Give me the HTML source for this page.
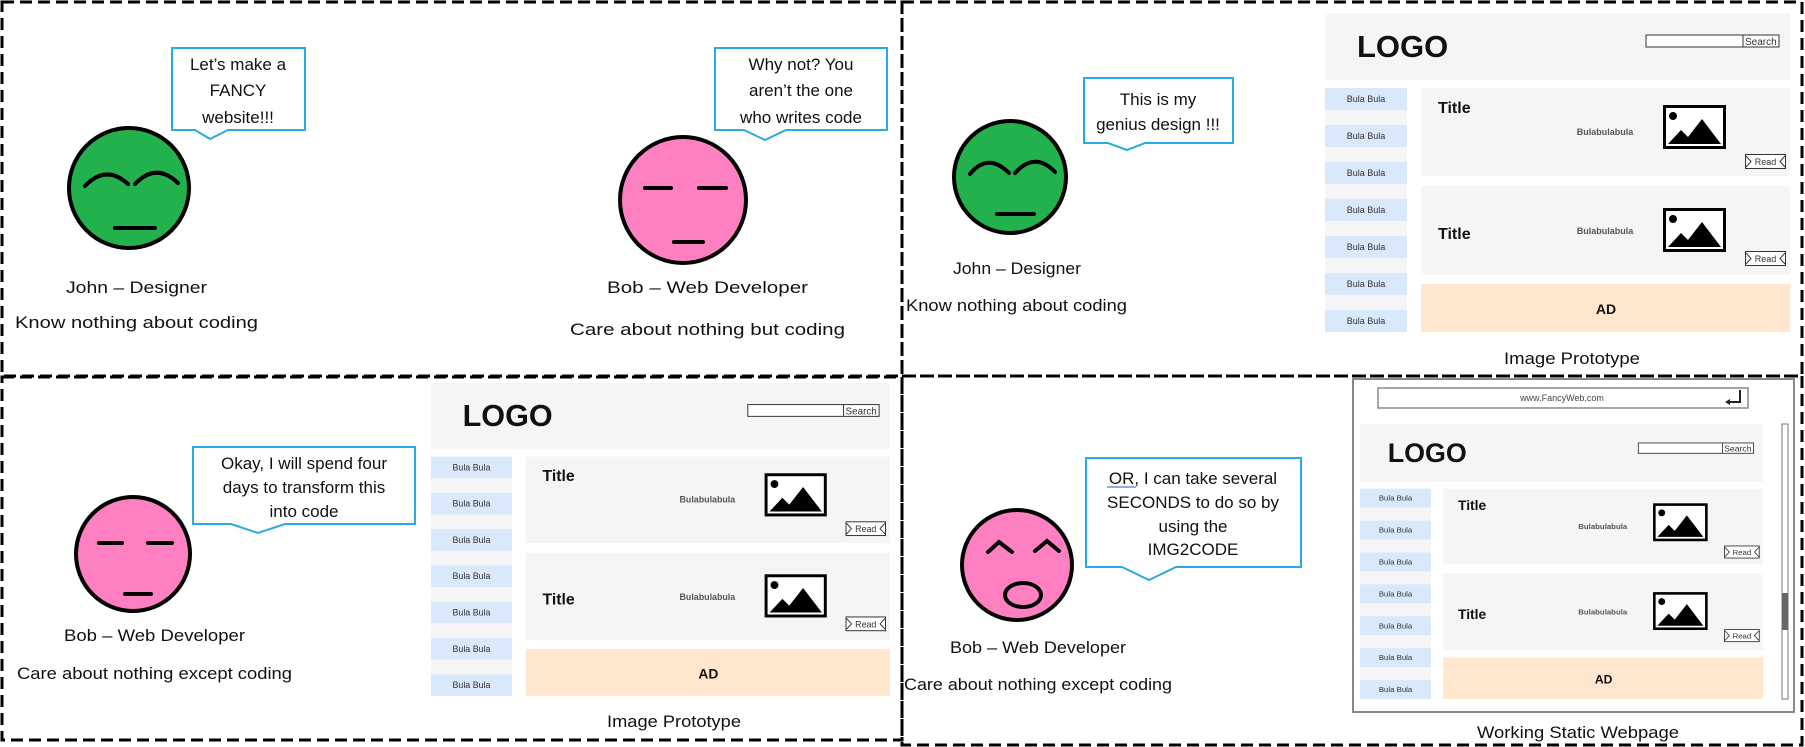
<!DOCTYPE html>
<html><head><meta charset="utf-8"><style>
html,body{margin:0;padding:0;background:#fff;}
svg{display:block;}
text{font-family:"Liberation Sans",sans-serif;}
.t{font-size:17px;fill:#111;}
</style></head><body>
<svg width="1805" height="747" viewBox="0 0 1805 747" xmlns="http://www.w3.org/2000/svg">
<!-- dashed panels -->
<g stroke="#000" stroke-width="3" stroke-dasharray="12 6" fill="none">
<rect x="2" y="2" width="900" height="374"/>
<rect x="902" y="2" width="900" height="374"/>
<rect x="2" y="377" width="900" height="363"/>
<rect x="902" y="376" width="900" height="369"/>
</g>

<!-- ===== TL: John ===== -->
<path d="M172 48 H305 V130 H228 L210 139 L195 130 H172 Z" fill="#fff" stroke="#29aae1" stroke-width="2"/>
<text class="t" x="238" y="70" text-anchor="middle">Let’s make a</text>
<text class="t" x="238" y="96" text-anchor="middle">FANCY</text>
<text class="t" x="238" y="123" text-anchor="middle">website!!!</text>
<circle cx="129" cy="188" r="60" fill="#23b14d" stroke="#000" stroke-width="4"/>
<g stroke="#000" stroke-width="4" fill="none" stroke-linecap="round">
<path d="M85 186 Q106 164 128 184"/><path d="M135 184 Q156 162 178 183"/>
<line x1="115" y1="228" x2="155" y2="228"/></g>
<text class="t" x="66" y="293" textLength="141" lengthAdjust="spacingAndGlyphs">John – Designer</text>
<text class="t" x="15" y="328" textLength="243" lengthAdjust="spacingAndGlyphs">Know nothing about coding</text>

<!-- ===== TL: Bob ===== -->
<path d="M715 48 H887 V130 H786 L765 140 L744 130 H715 Z" fill="#fff" stroke="#29aae1" stroke-width="2"/>
<text class="t" x="801" y="70" text-anchor="middle">Why not? You</text>
<text class="t" x="801" y="96" text-anchor="middle">aren’t the one</text>
<text class="t" x="801" y="123" text-anchor="middle">who writes code</text>
<circle cx="683" cy="200" r="63" fill="#ff80c0" stroke="#000" stroke-width="4"/>
<g stroke="#000" stroke-width="4" stroke-linecap="round">
<line x1="645" y1="188" x2="671" y2="188"/><line x1="699" y1="188" x2="726" y2="188"/>
<line x1="674" y1="242" x2="703" y2="242"/></g>
<text class="t" x="607" y="293" textLength="201" lengthAdjust="spacingAndGlyphs">Bob – Web Developer</text>
<text class="t" x="570" y="335" textLength="275" lengthAdjust="spacingAndGlyphs">Care about nothing but coding</text>

<!-- ===== TR: John ===== -->
<path d="M1084 78 H1233 V143 H1145 L1127 150 L1108 143 H1084 Z" fill="#fff" stroke="#29aae1" stroke-width="2"/>
<text class="t" x="1158" y="105" text-anchor="middle">This is my</text>
<text class="t" x="1158" y="130" text-anchor="middle">genius design !!!</text>
<circle cx="1010" cy="177" r="56" fill="#23b14d" stroke="#000" stroke-width="4"/>
<g stroke="#000" stroke-width="4" fill="none" stroke-linecap="round">
<path d="M970 174 Q988 152 1009 173"/><path d="M1015 173 Q1035 151 1055 172"/>
<line x1="997" y1="214" x2="1034" y2="214"/></g>
<text class="t" x="953" y="274" textLength="128" lengthAdjust="spacingAndGlyphs">John – Designer</text>
<text class="t" x="906" y="311" textLength="221" lengthAdjust="spacingAndGlyphs">Know nothing about coding</text>

<!-- ===== BL: Bob ===== -->
<path d="M193 447 H415 V524 H285 L258 533 L231 524 H193 Z" fill="#fff" stroke="#29aae1" stroke-width="2"/>
<text class="t" x="304" y="469" text-anchor="middle">Okay, I will spend four</text>
<text class="t" x="304" y="493" text-anchor="middle">days to transform this</text>
<text class="t" x="304" y="517" text-anchor="middle">into code</text>
<circle cx="133" cy="554" r="57" fill="#ff80c0" stroke="#000" stroke-width="4"/>
<g stroke="#000" stroke-width="4" stroke-linecap="round">
<line x1="99" y1="543" x2="122" y2="543"/><line x1="148" y1="543" x2="172" y2="543"/>
<line x1="125" y1="594" x2="151" y2="594"/></g>
<text class="t" x="64" y="641" textLength="181" lengthAdjust="spacingAndGlyphs">Bob – Web Developer</text>
<text class="t" x="17" y="679" textLength="275" lengthAdjust="spacingAndGlyphs">Care about nothing except coding</text>

<!-- ===== BR: Bob ===== -->
<path d="M1086 458 H1301 V567 H1176 L1149 580 L1122 567 H1086 Z" fill="#fff" stroke="#29aae1" stroke-width="2"/>
<text class="t" x="1193" y="484" text-anchor="middle">OR, I can take several</text>
<line x1="1107" y1="487" x2="1136" y2="487" stroke="#6f8fd8" stroke-width="1.5"/>
<text class="t" x="1193" y="508" text-anchor="middle">SECONDS to do so by</text>
<text class="t" x="1193" y="532" text-anchor="middle">using the</text>
<text class="t" x="1193" y="555" text-anchor="middle">IMG2CODE</text>
<circle cx="1017" cy="565" r="55" fill="#ff80c0" stroke="#000" stroke-width="4"/>
<g stroke="#000" stroke-width="4" fill="none" stroke-linecap="round">
<path d="M988 552 L999 542 L1012 552"/><path d="M1035 551 L1047 541 L1059 551"/>
<ellipse cx="1023" cy="595" rx="18" ry="12"/></g>
<text class="t" x="950" y="653" textLength="176" lengthAdjust="spacingAndGlyphs">Bob – Web Developer</text>
<text class="t" x="904" y="690" textLength="268" lengthAdjust="spacingAndGlyphs">Care about nothing except coding</text>

<!-- browser frame -->
<rect x="1353" y="379" width="441" height="333" fill="#fff" stroke="#888" stroke-width="2"/>
<rect x="1378" y="388" width="370" height="20" fill="#fff" stroke="#888" stroke-width="1.5"/>
<text x="1562" y="401" text-anchor="middle" font-size="9" fill="#444">www.FancyWeb.com</text>
<path d="M1740 390 V402 H1727" stroke="#222" stroke-width="2" fill="none"/>
<path d="M1725 402 L1730 399 L1730 405 Z" fill="#222"/>
<rect x="1782" y="424" width="6" height="275" fill="#fff" stroke="#777" stroke-width="1"/>
<rect x="1782" y="593" width="6" height="37" fill="#666"/>
<text class="t" x="1578" y="738" text-anchor="middle" textLength="202" lengthAdjust="spacingAndGlyphs">Working Static Webpage</text>
<text class="t" x="1572" y="364" text-anchor="middle" textLength="136" lengthAdjust="spacingAndGlyphs">Image Prototype</text>
<text class="t" x="674" y="727" text-anchor="middle" textLength="134" lengthAdjust="spacingAndGlyphs">Image Prototype</text>

<!-- wireframe A -->
<g transform="translate(1325,13)">
<rect width="465" height="67" fill="#f5f5f5"/>
<text x="32" y="44" font-size="31" font-weight="bold" fill="#111">LOGO</text>
<rect x="321" y="22" width="133" height="12" fill="#fff" stroke="#333"/><line x1="418" y1="22" x2="418" y2="34" stroke="#333"/>
<text x="420" y="32" font-size="10" fill="#333">Search</text>
<rect x="0" y="75" width="82" height="244" fill="#f5f5f5"/>
<g fill="#dae8fc"><rect y="75" width="82" height="22"/><rect y="112" width="82" height="22"/><rect y="149" width="82" height="22"/><rect y="186" width="82" height="22"/><rect y="223" width="82" height="22"/><rect y="260" width="82" height="22"/><rect y="297" width="82" height="22"/></g>
<g font-size="9" fill="#333" text-anchor="middle"><text x="41" y="89">Bula Bula</text><text x="41" y="126">Bula Bula</text><text x="41" y="163">Bula Bula</text><text x="41" y="200">Bula Bula</text><text x="41" y="237">Bula Bula</text><text x="41" y="274">Bula Bula</text><text x="41" y="311">Bula Bula</text></g>
<rect x="96" y="75" width="369" height="88" fill="#f5f5f5"/>
<rect x="96" y="173" width="369" height="89" fill="#f5f5f5"/>
<text x="113" y="100" font-size="16" font-weight="bold" fill="#111">Title</text>
<text x="113" y="226" font-size="16" font-weight="bold" fill="#111">Title</text>
<text x="280" y="122" font-size="9" font-weight="bold" fill="#555" text-anchor="middle">Bulabulabula</text>
<text x="280" y="221" font-size="9" font-weight="bold" fill="#555" text-anchor="middle">Bulabulabula</text>
<g transform="translate(338,92)"><rect x="1.5" y="1.5" width="60" height="41" fill="#fff" stroke="#000" stroke-width="3"/><circle cx="10" cy="11" r="4"/><polygon points="5,39 18,25 25,32 39,14 58,39"/></g>
<g transform="translate(338,195)"><rect x="1.5" y="1.5" width="60" height="41" fill="#fff" stroke="#000" stroke-width="3"/><circle cx="10" cy="11" r="4"/><polygon points="5,39 18,25 25,32 39,14 58,39"/></g>
<g transform="translate(420,141)"><rect x="0.5" y="0.5" width="40" height="14" fill="#fff" stroke="#333"/><polyline points="1,2 6,7.5 1,13" fill="none" stroke="#333"/><polyline points="40,2 35,7.5 40,13" fill="none" stroke="#333"/><text x="20.5" y="11" font-size="9" fill="#333" text-anchor="middle">Read</text></g>
<g transform="translate(420,238)"><rect x="0.5" y="0.5" width="40" height="14" fill="#fff" stroke="#333"/><polyline points="1,2 6,7.5 1,13" fill="none" stroke="#333"/><polyline points="40,2 35,7.5 40,13" fill="none" stroke="#333"/><text x="20.5" y="11" font-size="9" fill="#333" text-anchor="middle">Read</text></g>
<rect x="96" y="271" width="369" height="48" fill="#ffe6cc"/>
<text x="281" y="301" font-size="14" font-weight="bold" fill="#111" text-anchor="middle">AD</text>
</g>

<!-- wireframe B -->
<g transform="translate(431,383) scale(0.987,0.981)">
<rect width="465" height="67" fill="#f5f5f5"/>
<text x="32" y="44" font-size="31" font-weight="bold" fill="#111">LOGO</text>
<rect x="321" y="22" width="133" height="12" fill="#fff" stroke="#333"/><line x1="418" y1="22" x2="418" y2="34" stroke="#333"/>
<text x="420" y="32" font-size="10" fill="#333">Search</text>
<rect x="0" y="75" width="82" height="244" fill="#f5f5f5"/>
<g fill="#dae8fc"><rect y="75" width="82" height="22"/><rect y="112" width="82" height="22"/><rect y="149" width="82" height="22"/><rect y="186" width="82" height="22"/><rect y="223" width="82" height="22"/><rect y="260" width="82" height="22"/><rect y="297" width="82" height="22"/></g>
<g font-size="9" fill="#333" text-anchor="middle"><text x="41" y="89">Bula Bula</text><text x="41" y="126">Bula Bula</text><text x="41" y="163">Bula Bula</text><text x="41" y="200">Bula Bula</text><text x="41" y="237">Bula Bula</text><text x="41" y="274">Bula Bula</text><text x="41" y="311">Bula Bula</text></g>
<rect x="96" y="75" width="369" height="88" fill="#f5f5f5"/>
<rect x="96" y="173" width="369" height="89" fill="#f5f5f5"/>
<text x="113" y="100" font-size="16" font-weight="bold" fill="#111">Title</text>
<text x="113" y="226" font-size="16" font-weight="bold" fill="#111">Title</text>
<text x="280" y="122" font-size="9" font-weight="bold" fill="#555" text-anchor="middle">Bulabulabula</text>
<text x="280" y="221" font-size="9" font-weight="bold" fill="#555" text-anchor="middle">Bulabulabula</text>
<g transform="translate(338,92)"><rect x="1.5" y="1.5" width="60" height="41" fill="#fff" stroke="#000" stroke-width="3"/><circle cx="10" cy="11" r="4"/><polygon points="5,39 18,25 25,32 39,14 58,39"/></g>
<g transform="translate(338,195)"><rect x="1.5" y="1.5" width="60" height="41" fill="#fff" stroke="#000" stroke-width="3"/><circle cx="10" cy="11" r="4"/><polygon points="5,39 18,25 25,32 39,14 58,39"/></g>
<g transform="translate(420,141)"><rect x="0.5" y="0.5" width="40" height="14" fill="#fff" stroke="#333"/><polyline points="1,2 6,7.5 1,13" fill="none" stroke="#333"/><polyline points="40,2 35,7.5 40,13" fill="none" stroke="#333"/><text x="20.5" y="11" font-size="9" fill="#333" text-anchor="middle">Read</text></g>
<g transform="translate(420,238)"><rect x="0.5" y="0.5" width="40" height="14" fill="#fff" stroke="#333"/><polyline points="1,2 6,7.5 1,13" fill="none" stroke="#333"/><polyline points="40,2 35,7.5 40,13" fill="none" stroke="#333"/><text x="20.5" y="11" font-size="9" fill="#333" text-anchor="middle">Read</text></g>
<rect x="96" y="271" width="369" height="48" fill="#ffe6cc"/>
<text x="281" y="301" font-size="14" font-weight="bold" fill="#111" text-anchor="middle">AD</text>
</g>

<!-- wireframe C -->
<g transform="translate(1360,424) scale(0.867,0.862)">
<rect width="465" height="67" fill="#f5f5f5"/>
<text x="32" y="44" font-size="31" font-weight="bold" fill="#111">LOGO</text>
<rect x="321" y="22" width="133" height="12" fill="#fff" stroke="#333"/><line x1="418" y1="22" x2="418" y2="34" stroke="#333"/>
<text x="420" y="32" font-size="10" fill="#333">Search</text>
<rect x="0" y="75" width="82" height="244" fill="#f5f5f5"/>
<g fill="#dae8fc"><rect y="75" width="82" height="22"/><rect y="112" width="82" height="22"/><rect y="149" width="82" height="22"/><rect y="186" width="82" height="22"/><rect y="223" width="82" height="22"/><rect y="260" width="82" height="22"/><rect y="297" width="82" height="22"/></g>
<g font-size="9" fill="#333" text-anchor="middle"><text x="41" y="89">Bula Bula</text><text x="41" y="126">Bula Bula</text><text x="41" y="163">Bula Bula</text><text x="41" y="200">Bula Bula</text><text x="41" y="237">Bula Bula</text><text x="41" y="274">Bula Bula</text><text x="41" y="311">Bula Bula</text></g>
<rect x="96" y="75" width="369" height="88" fill="#f5f5f5"/>
<rect x="96" y="173" width="369" height="89" fill="#f5f5f5"/>
<text x="113" y="100" font-size="16" font-weight="bold" fill="#111">Title</text>
<text x="113" y="226" font-size="16" font-weight="bold" fill="#111">Title</text>
<text x="280" y="122" font-size="9" font-weight="bold" fill="#555" text-anchor="middle">Bulabulabula</text>
<text x="280" y="221" font-size="9" font-weight="bold" fill="#555" text-anchor="middle">Bulabulabula</text>
<g transform="translate(338,92)"><rect x="1.5" y="1.5" width="60" height="41" fill="#fff" stroke="#000" stroke-width="3"/><circle cx="10" cy="11" r="4"/><polygon points="5,39 18,25 25,32 39,14 58,39"/></g>
<g transform="translate(338,195)"><rect x="1.5" y="1.5" width="60" height="41" fill="#fff" stroke="#000" stroke-width="3"/><circle cx="10" cy="11" r="4"/><polygon points="5,39 18,25 25,32 39,14 58,39"/></g>
<g transform="translate(420,141)"><rect x="0.5" y="0.5" width="40" height="14" fill="#fff" stroke="#333"/><polyline points="1,2 6,7.5 1,13" fill="none" stroke="#333"/><polyline points="40,2 35,7.5 40,13" fill="none" stroke="#333"/><text x="20.5" y="11" font-size="9" fill="#333" text-anchor="middle">Read</text></g>
<g transform="translate(420,238)"><rect x="0.5" y="0.5" width="40" height="14" fill="#fff" stroke="#333"/><polyline points="1,2 6,7.5 1,13" fill="none" stroke="#333"/><polyline points="40,2 35,7.5 40,13" fill="none" stroke="#333"/><text x="20.5" y="11" font-size="9" fill="#333" text-anchor="middle">Read</text></g>
<rect x="96" y="271" width="369" height="48" fill="#ffe6cc"/>
<text x="281" y="301" font-size="14" font-weight="bold" fill="#111" text-anchor="middle">AD</text>
</g>
</svg>
</body></html>
